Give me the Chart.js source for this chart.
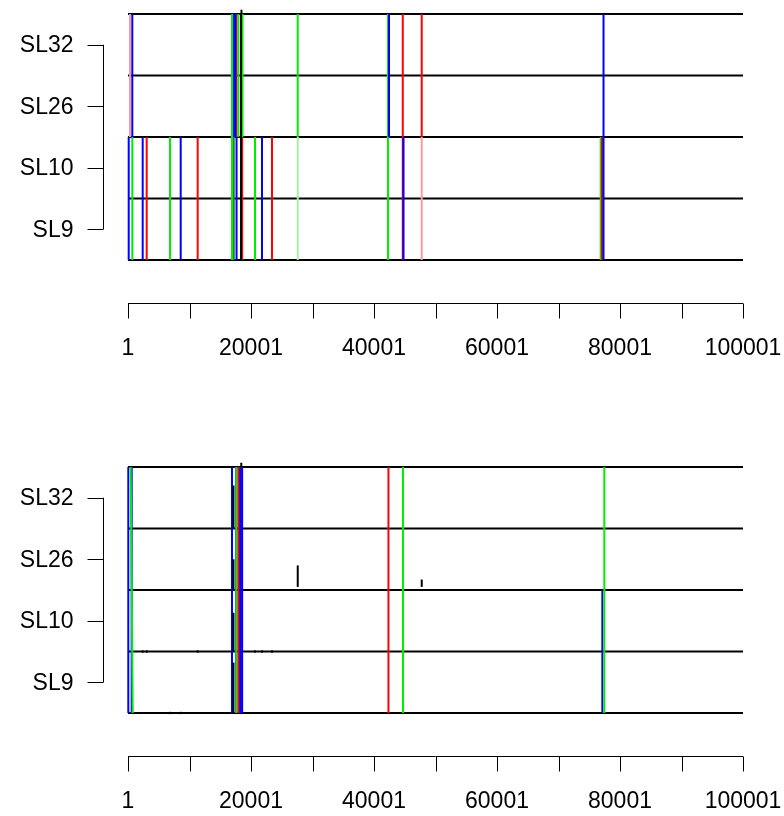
<!DOCTYPE html>
<html>
<head>
<meta charset="utf-8">
<script src="https://cdn.jsdelivr.net/npm/chart.js@4"></script>
<style>
  html, body { margin: 0; padding: 0; background: #fff; }
  .panel { width: 784px; height: 408px; }
</style>
</head>
<body>
<div class="panel"><canvas id="topPanel" width="784" height="408"></canvas></div>
<div class="panel"><canvas id="bottomPanel" width="784" height="408"></canvas></div>
<script>
// axis data
const yLabels = ['SL9', 'SL10', 'SL26', 'SL32'];
const yTickVals = [0.5, 1.5, 2.5, 3.5];
const levelVals = [0, 1, 2, 3, 4];
const xMin = 1;
const xMax = 100001;
const xTicks = [1, 10001, 20001, 30001, 40001, 50001, 60001, 70001, 80001, 90001, 100001];
const xLabelTicks = [1, 20001, 40001, 60001, 80001, 100001];

// top panel segments: [position, fromLevel, toLevel]
const topRed = [[3040, 0, 2], [11330, 0, 2], [17600, 2, 4], [18560, 0, 2], [23420, 0, 2], [44680, 0, 4], [47760, 2, 4], [77070, 0, 2]];
const topPink = [[326, 2, 4], [47760, 0, 2]];
const topGreen = [[700, 0, 2], [6830, 0, 2], [16910, 0, 4], [17940, 2, 4], [18620, 2, 4], [20650, 0, 2], [27600, 2, 4], [42280, 0, 4], [76860, 0, 2]];
const topLightGreen = [[27600, 0, 2]];
const topDarkGreen = [[17020, 0, 4], [17200, 0, 2]];
const topBlue = [[115, 0, 2], [700, 2, 4], [2390, 0, 2], [8570, 0, 2], [17250, 2, 4], [17450, 2, 4], [17650, 0, 2], [21790, 0, 2], [42440, 2, 4], [44800, 0, 2], [77320, 0, 4]];
const topBlack = [[18380, 0, 4], [18450, 4, 4.07]];

// bottom panel segments
const botBlue = [[50, 0, 4], [600, 0, 4], [16910, 0, 4], [17560, 0, 4], [18100, 0, 4], [18330, 0, 4], [18560, 0, 4], [77130, 0, 2]];
const botGreen = [[17600, 0, 4], [44720, 0, 4], [77450, 0, 4]];
const botGreenSlant = [[440, 4, 770, 0]];
const botRed = [[17940, 0, 4], [42350, 0, 4]];
const botBlack = [[17150, 3, 3.7], [17150, 2, 2.5], [17150, 1, 1.63], [17150, 0, 0.82], [27600, 2.05, 2.4], [47760, 2.05, 2.17], [18420, 4, 4.07]];
const botDotsLevel1 = [2390, 3040, 11330, 20650, 21790, 23420];
const botDotsLevel0 = [6830, 8570];

const FONT = '23px "Liberation Sans", Arial, sans-serif';

function vSegs(list, color, width) {
  return list.map(([x, a, b]) => ({
    data: [{ x, y: a }, { x, y: b }],
    borderColor: color, borderWidth: width || 2, showLine: true, pointRadius: 0, clip: false,
  }));
}

function slantSegs(list, color) {
  return list.map(([x1, y1, x2, y2]) => ({
    data: [{ x: x1, y: y1 }, { x: x2, y: y2 }],
    borderColor: color, borderWidth: 2, showLine: true, pointRadius: 0, clip: false,
  }));
}

function levelLines() {
  return levelVals.map((l) => ({
    data: [{ x: xMin, y: l }, { x: xMax, y: l }],
    borderColor: '#000', borderWidth: 2, showLine: true, pointRadius: 0, clip: false,
  }));
}

function dots(list, level) {
  return [{
    data: list.map((x) => ({ x, y: level })),
    showLine: false, pointRadius: 1.3, pointBackgroundColor: '#000', pointBorderWidth: 0, clip: false,
  }];
}

// R-style axes drawn from the chart scales
const rAxes = {
  id: 'rAxes',
  afterDraw(chart) {
    const { ctx, chartArea } = chart;
    const x = chart.scales.x, y = chart.scales.y;
    ctx.save();
    ctx.strokeStyle = '#000';
    ctx.fillStyle = '#000';
    ctx.lineWidth = 1;
    ctx.font = FONT;

    const ay = Math.round(chartArea.bottom + 43) + 0.5;
    ctx.beginPath();
    ctx.moveTo(x.getPixelForValue(xTicks[0]), ay);
    ctx.lineTo(x.getPixelForValue(xTicks[xTicks.length - 1]), ay);
    xTicks.forEach((t) => {
      const px = Math.round(x.getPixelForValue(t)) + 0.5;
      ctx.moveTo(px, ay);
      ctx.lineTo(px, ay + 15);
    });
    ctx.stroke();
    ctx.textAlign = 'center';
    ctx.textBaseline = 'middle';
    xLabelTicks.forEach((t) => ctx.fillText(String(t), x.getPixelForValue(t), ay + 45));

    const ax = Math.round(chartArea.left - 25) + 0.5;
    ctx.beginPath();
    ctx.moveTo(ax, y.getPixelForValue(yTickVals[0]));
    ctx.lineTo(ax, y.getPixelForValue(yTickVals[yTickVals.length - 1]));
    yTickVals.forEach((t) => {
      const py = Math.round(y.getPixelForValue(t)) + 0.5;
      ctx.moveTo(ax, py);
      ctx.lineTo(ax - 16, py);
    });
    ctx.stroke();
    ctx.textAlign = 'right';
    yTickVals.forEach((t, i) => ctx.fillText(yLabels[i], ax - 30, y.getPixelForValue(t) + 1));
    ctx.restore();
  },
};

function makeChart(id, datasets, padding) {
  new Chart(document.getElementById(id), {
    type: 'scatter',
    data: { datasets },
    options: {
      responsive: false,
      animation: false,
      devicePixelRatio: 1,
      layout: { padding },
      plugins: { legend: { display: false }, tooltip: { enabled: false } },
      scales: {
        x: { type: 'linear', min: xMin, max: xMax, display: false },
        y: { type: 'linear', min: 0, max: 4, display: false },
      },
    },
    plugins: [rAxes],
  });
}

const topDatasets = [
  ...vSegs(topBlack, '#000'),
  ...vSegs(topBlue, '#0000FF'),
  ...vSegs(topRed, '#FF0000'),
  ...vSegs(topPink, '#FF9A9A'),
  ...vSegs(topGreen, '#00EE00'),
  ...vSegs(topLightGreen, '#A6F0A6'),
  ...vSegs(topDarkGreen, '#2E7D2E'),
  ...levelLines(),
];

const botDatasets = [
  ...vSegs(botRed, '#FF0000'),
  ...vSegs(botGreen, '#00EE00'),
  ...slantSegs(botGreenSlant, '#00EE00'),
  ...vSegs(botBlack, '#000', 2),
  ...dots(botDotsLevel1, 1),
  ...dots(botDotsLevel0, 0),
  ...vSegs(botBlue, '#0000FF'),
  ...levelLines(),
];

makeChart('topPanel', topDatasets, { left: 128, right: 41, top: 14, bottom: 148 });
makeChart('bottomPanel', botDatasets, { left: 128, right: 41, top: 59, bottom: 103 });
</script>
</body>
</html>
